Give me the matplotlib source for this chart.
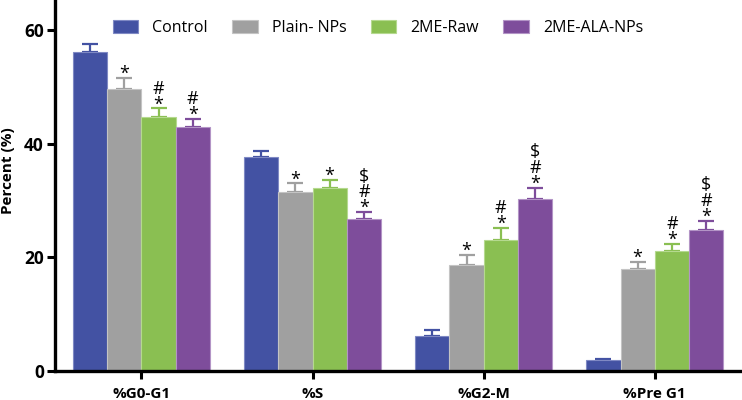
import matplotlib
matplotlib.use("Agg")
import numpy as np
import matplotlib.pyplot as plt

plt.rcParams['font.family'] = ['Open Sans', 'DejaVu Sans']

phases = ['%G0-G1', '%S', '%G2-M', '%Pre G1']
groups = ['Control', 'Plain- NPs', '2ME-Raw', '2ME-ALA-NPs']
colors = ['#4352a3', '#a0a0a0', '#8abf52', '#7e4d9b']
edges = ['#7f89c4', '#c4c4c4', '#b5d98f', '#b394c6']

# mean values per group, one entry per phase
control = [56.2, 37.6, 6.1, 1.8]
plain_nps = [49.6, 31.5, 18.7, 18.0]
me_raw = [44.7, 32.1, 23.0, 21.1]
me_ala = [42.9, 26.8, 30.2, 24.7]

control_err = [1.4, 1.1, 1.0, 0.2]
plain_err = [1.9, 1.5, 1.7, 1.2]
raw_err = [1.5, 1.5, 2.2, 1.3]
ala_err = [1.4, 1.1, 2.0, 1.7]

# significance marks, top to bottom
control_sig = ['', '', '', '']
plain_sig = ['*', '*', '*', '*']
raw_sig = ['#\n*', '*', '#\n*', '#\n*']
ala_sig = ['#\n*', '$\n#\n*', '$\n#\n*', '$\n#\n*']

values = [control, plain_nps, me_raw, me_ala]
errors = [control_err, plain_err, raw_err, ala_err]
marks = [control_sig, plain_sig, raw_sig, ala_sig]

fig = plt.figure(figsize=(7.42, 4.0), dpi=100)
ax = fig.add_axes([55 / 742, 29.3 / 400, 687 / 742, 370.7 / 400])

x = np.arange(len(phases))
w = 0.2
for i, name in enumerate(groups):
    pos = x + (i - 1.5) * w
    ax.bar(pos, values[i], w, color=colors[i], edgecolor=edges[i],
           linewidth=0.8, label=name, zorder=2)
    ax.errorbar(pos, values[i], yerr=[np.zeros(len(pos)), errors[i]],
                fmt='none', ecolor=colors[i], elinewidth=1.6, capsize=6,
                capthick=1.6, zorder=1)
    for j in range(len(phases)):
        if not marks[i][j]:
            continue
        top = values[i][j] + errors[i][j]
        ax.annotate(marks[i][j], (pos[j], top), xytext=(0, -5),
                    textcoords='offset pixels', ha='center', va='bottom',
                    ma='center', fontsize=13, linespacing=0.85, color='black')

ax.set_xlim(-0.505, 3.51)
ax.set_ylim(0, 65.3)
ax.set_yticks([0, 20, 40, 60])
ax.set_xticks(x)
ax.set_xticklabels(phases, fontsize=11, fontweight='bold')
for lab in ax.get_yticklabels():
    lab.set_fontweight('bold')
    lab.set_fontsize(12.5)
ax.tick_params(axis='both', width=2.2, length=6, pad=2)
ax.tick_params(axis='x', pad=6)
for s in ['top', 'right']:
    ax.spines[s].set_visible(False)
for s in ['left', 'bottom']:
    ax.spines[s].set_linewidth(2.4)

ax.set_ylabel('Percent (%)', fontsize=11, fontweight='bold')
ax.yaxis.set_label_coords(-0.058, 0.54)

ax.legend(loc='center', bbox_to_anchor=(0.47, 0.925), ncol=4, frameon=False,
          fontsize=11.5, handlelength=1.6, handleheight=0.9,
          handletextpad=0.9, columnspacing=1.5)

fig.savefig('out.png', dpi=100)
